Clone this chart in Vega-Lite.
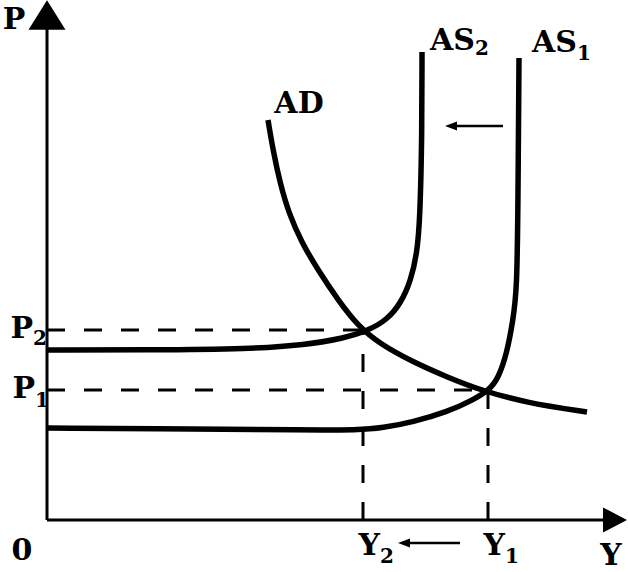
{
  "$schema": "https://vega.github.io/schema/vega-lite/v6.json",
  "width": 628,
  "height": 572,
  "padding": 0,
  "autosize": {"type": "fit", "contains": "padding"},
  "background": "white",
  "config": {"view": {"stroke": null}},
  "datasets": {
    "curves": [
      {"curve": "AS2", "i": 1, "x": 0, "p": 170},
      {"curve": "AS2", "i": 2, "x": 103, "p": 170},
      {"curve": "AS2", "i": 3, "x": 203, "p": 171},
      {"curve": "AS2", "i": 4, "x": 258, "p": 175},
      {"curve": "AS2", "i": 5, "x": 298, "p": 182},
      {"curve": "AS2", "i": 6, "x": 320, "p": 189},
      {"curve": "AS2", "i": 7, "x": 340, "p": 200},
      {"curve": "AS2", "i": 8, "x": 354, "p": 217},
      {"curve": "AS2", "i": 9, "x": 364, "p": 240},
      {"curve": "AS2", "i": 10, "x": 370, "p": 267},
      {"curve": "AS2", "i": 11, "x": 373, "p": 300},
      {"curve": "AS2", "i": 12, "x": 375, "p": 390},
      {"curve": "AS2", "i": 13, "x": 375, "p": 468},
      {"curve": "AS1", "i": 1, "x": 0, "p": 92},
      {"curve": "AS1", "i": 2, "x": 153, "p": 91},
      {"curve": "AS1", "i": 3, "x": 253, "p": 90},
      {"curve": "AS1", "i": 4, "x": 313, "p": 90},
      {"curve": "AS1", "i": 5, "x": 335, "p": 92},
      {"curve": "AS1", "i": 6, "x": 366, "p": 98},
      {"curve": "AS1", "i": 7, "x": 400, "p": 108},
      {"curve": "AS1", "i": 8, "x": 426, "p": 120},
      {"curve": "AS1", "i": 9, "x": 442, "p": 130},
      {"curve": "AS1", "i": 10, "x": 451, "p": 141},
      {"curve": "AS1", "i": 11, "x": 460, "p": 167},
      {"curve": "AS1", "i": 12, "x": 466, "p": 200},
      {"curve": "AS1", "i": 13, "x": 470, "p": 230},
      {"curve": "AS1", "i": 14, "x": 471, "p": 320},
      {"curve": "AS1", "i": 15, "x": 472, "p": 462},
      {"curve": "AD", "i": 1, "x": 221, "p": 400},
      {"curve": "AD", "i": 2, "x": 226, "p": 370},
      {"curve": "AD", "i": 3, "x": 233, "p": 337},
      {"curve": "AD", "i": 4, "x": 242, "p": 306},
      {"curve": "AD", "i": 5, "x": 255, "p": 277},
      {"curve": "AD", "i": 6, "x": 271, "p": 250},
      {"curve": "AD", "i": 7, "x": 291, "p": 220},
      {"curve": "AD", "i": 8, "x": 311, "p": 194},
      {"curve": "AD", "i": 9, "x": 333, "p": 176},
      {"curve": "AD", "i": 10, "x": 366, "p": 158},
      {"curve": "AD", "i": 11, "x": 400, "p": 143},
      {"curve": "AD", "i": 12, "x": 433, "p": 130},
      {"curve": "AD", "i": 13, "x": 480, "p": 117},
      {"curve": "AD", "i": 14, "x": 540, "p": 108}
    ],
    "axes": [
      {"x": 0, "p": 0, "x2": 0, "p2": 495},
      {"x": 0, "p": 0, "x2": 560, "p2": 0}
    ],
    "shifts": [
      {"x": 404, "p": 394, "x2": 456, "p2": 394},
      {"x": 357, "p": -23, "x2": 413, "p2": -23}
    ],
    "dashed": [
      {"x": 0, "p": 190, "x2": 318, "p2": 190},
      {"x": 316, "p": 0, "x2": 316, "p2": 190},
      {"x": 0, "p": 130, "x2": 441, "p2": 130},
      {"x": 441, "p": 0, "x2": 441, "p2": 130}
    ],
    "centerLabels": [
      {"t": "P", "x": -33, "p": 491},
      {"t": "0", "x": -25, "p": -40},
      {"t": "Y", "x": 564, "p": -45},
      {"t": "AD", "x": 252, "p": 407}
    ],
    "rightLabels": [
      {"t": "Y", "x": 333, "p": -35},
      {"t": "Y", "x": 458, "p": -35},
      {"t": "P", "x": -14, "p": 182},
      {"t": "P", "x": -12, "p": 122},
      {"t": "AS", "x": 428, "p": 470},
      {"t": "AS", "x": 530, "p": 468}
    ],
    "subs": [
      {"t": "2", "x": 333, "p": -43},
      {"t": "1", "x": 458, "p": -43},
      {"t": "2", "x": -14, "p": 175},
      {"t": "1", "x": -12, "p": 113},
      {"t": "2", "x": 428, "p": 465},
      {"t": "1", "x": 530, "p": 460}
    ]
  },
  "layer": [
    {
      "data": {"name": "axes"},
      "mark": {"type": "rule", "color": "black", "strokeWidth": 3},
      "encoding": {
        "x": {"field": "x", "type": "quantitative", "scale": {"domain": [-47, 581], "nice": false, "zero": false}, "axis": null},
        "y": {"field": "p", "type": "quantitative", "scale": {"domain": [-52, 520], "nice": false, "zero": false}, "axis": null},
        "x2": {"field": "x2"},
        "y2": {"field": "p2"}
      }
    },
    {
      "data": {"name": "dashed"},
      "mark": {"type": "rule", "color": "black", "strokeWidth": 3, "strokeDash": [18, 19]},
      "encoding": {
        "x": {"field": "x", "type": "quantitative"},
        "y": {"field": "p", "type": "quantitative"},
        "x2": {"field": "x2"},
        "y2": {"field": "p2"}
      }
    },
    {
      "data": {"name": "shifts"},
      "mark": {"type": "rule", "color": "black", "strokeWidth": 2.5},
      "encoding": {
        "x": {"field": "x", "type": "quantitative"},
        "y": {"field": "p", "type": "quantitative"},
        "x2": {"field": "x2"},
        "y2": {"field": "p2"}
      }
    },
    {
      "data": {"name": "shifts"},
      "mark": {"type": "point", "filled": true, "color": "black", "opacity": 1, "shape": "M-1,0L1,-0.75L1,0.75Z", "size": 144},
      "encoding": {
        "x": {"field": "x", "type": "quantitative"},
        "y": {"field": "p", "type": "quantitative"}
      }
    },
    {
      "data": {"values": [{"x": 0, "p": 505}]},
      "mark": {"type": "point", "filled": true, "color": "black", "opacity": 1, "shape": "M0,-0.8L1,0.8L-1,0.8Z", "size": 1369},
      "encoding": {
        "x": {"field": "x", "type": "quantitative"},
        "y": {"field": "p", "type": "quantitative"}
      }
    },
    {
      "data": {"values": [{"x": 568, "p": 0}]},
      "mark": {"type": "point", "filled": true, "color": "black", "opacity": 1, "shape": "M1,0L-1,-1.05L-1,1.05Z", "size": 576},
      "encoding": {
        "x": {"field": "x", "type": "quantitative"},
        "y": {"field": "p", "type": "quantitative"}
      }
    },
    {
      "data": {"name": "curves"},
      "mark": {"type": "line", "color": "black", "strokeWidth": 5.5, "interpolate": "basis", "strokeCap": "butt"},
      "encoding": {
        "x": {"field": "x", "type": "quantitative"},
        "y": {"field": "p", "type": "quantitative"},
        "detail": {"field": "curve"},
        "order": {"field": "i", "type": "quantitative"}
      }
    },
    {
      "data": {"name": "centerLabels"},
      "mark": {"type": "text", "font": "DejaVu Serif", "fontWeight": "bold", "fontSize": 30, "align": "center", "baseline": "alphabetic", "color": "black"},
      "encoding": {
        "x": {"field": "x", "type": "quantitative"},
        "y": {"field": "p", "type": "quantitative"},
        "text": {"field": "t"}
      }
    },
    {
      "data": {"name": "rightLabels"},
      "mark": {"type": "text", "font": "DejaVu Serif", "fontWeight": "bold", "fontSize": 30, "align": "right", "baseline": "alphabetic", "color": "black"},
      "encoding": {
        "x": {"field": "x", "type": "quantitative"},
        "y": {"field": "p", "type": "quantitative"},
        "text": {"field": "t"}
      }
    },
    {
      "data": {"name": "subs"},
      "mark": {"type": "text", "font": "DejaVu Serif", "fontWeight": "bold", "fontSize": 20, "align": "left", "baseline": "alphabetic", "color": "black"},
      "encoding": {
        "x": {"field": "x", "type": "quantitative"},
        "y": {"field": "p", "type": "quantitative"},
        "text": {"field": "t"}
      }
    }
  ]
}
